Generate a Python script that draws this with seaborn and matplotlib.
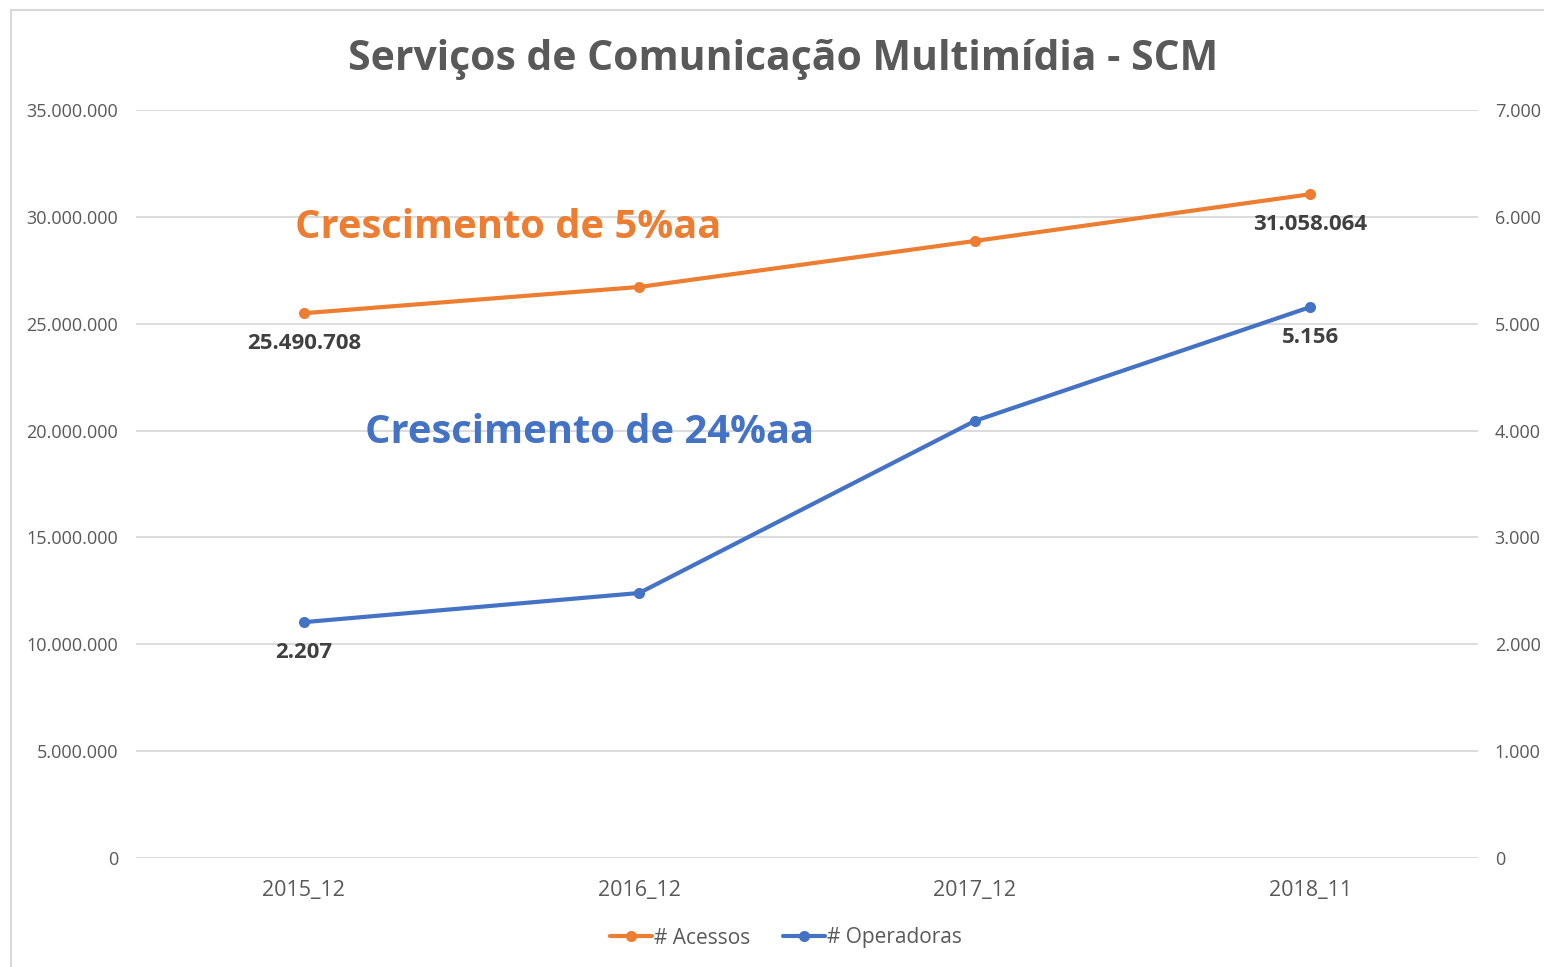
import pandas as pd
import seaborn as sns
import matplotlib.pyplot as plt
from matplotlib.patches import Rectangle
from matplotlib.ticker import FuncFormatter

# %% DATA

periods = ['2015_12', '2016_12', '2017_12', '2018_11']
acessos = [25490708, 26720000, 28870000, 31058064]
operadoras = [2207, 2480, 4090, 5156]

data = pd.DataFrame({'Periodo': periods, 'Acessos': acessos, 'Operadoras': operadoras})

# %% STYLE

sns.set_style('white')
plt.rcParams['font.family'] = ['Open Sans', 'DejaVu Sans']

orange = '#ED7D31'
blue = '#4472C4'
gray = '#595959'

def br_fmt(v, pos):
    return f'{int(round(v)):,}'.replace(',', '.')

fig = plt.figure(figsize=(15.44, 9.67), dpi=100)
ax = fig.add_axes([136 / 1544, 1 - 858 / 967, 1342 / 1544, 748 / 967])
ax2 = ax.twinx()

# %% PLOT

sns.lineplot(data=data, x='Periodo', y='Acessos', ax=ax, color=orange, linewidth=3,
             marker='o', markersize=8, markeredgewidth=0, sort=False, label='# Acessos', legend=False)
sns.lineplot(data=data, x='Periodo', y='Operadoras', ax=ax2, color=blue, linewidth=3,
             marker='o', markersize=8, markeredgewidth=0, sort=False, label='# Operadoras', legend=False)

ax.set_xlim(-0.5, 3.5)
ax.set_ylim(0, 35000000)
ax2.set_ylim(0, 7000)
ax.set_yticks(range(0, 35000001, 5000000))
ax2.set_yticks(range(0, 7001, 1000))
ax.yaxis.set_major_formatter(FuncFormatter(br_fmt))
ax2.yaxis.set_major_formatter(FuncFormatter(br_fmt))

ax.yaxis.grid(True, color='#D9D9D9', linewidth=1.3)
ax.set_axisbelow(True)
for a in (ax, ax2):
    for s in a.spines.values():
        s.set_visible(False)
    a.set_xlabel('')
    a.set_ylabel('')
ax.tick_params(axis='y', length=0, pad=13, labelsize=13, labelcolor=gray)
ax2.tick_params(axis='y', length=0, pad=12, labelsize=13, labelcolor=gray)
ax.tick_params(axis='x', length=0, pad=16, labelsize=15.5, labelcolor=gray)
ax2.set_zorder(ax.get_zorder() + 1)

# %% LABELS

label_kw = dict(textcoords='offset points', ha='center', va='center',
                fontsize=16, fontweight='bold', color='#404040')
for i in (0, 3):
    ax.annotate(br_fmt(acessos[i], None), (i, acessos[i]), xytext=(0, -22), **label_kw)
    ax2.annotate(br_fmt(operadoras[i], None), (i, operadoras[i]), xytext=(0, -22), **label_kw)

ax.text(-0.026, 29520000, 'Crescimento de 5%aa', color=orange, fontsize=28.7,
        fontweight='bold', va='center', ha='left')
ax.text(0.183, 19890000, 'Crescimento de 24%aa', color=blue, fontsize=28.7,
        fontweight='bold', va='center', ha='left')

fig.text(0.5 + 11 / 1544, 1 - 60 / 967, 'Serviços de Comunicação Multimídia - SCM', ha='center',
         va='center', fontsize=29.4, fontweight='bold', color=gray)

h1, l1 = ax.get_legend_handles_labels()
h2, l2 = ax2.get_legend_handles_labels()
fig.legend(h1 + h2, l1 + l2, loc='center', bbox_to_anchor=(0.5 + 14 / 1544, 1 - 938 / 967), ncol=2,
           frameon=False, fontsize=15, labelcolor=gray, handlelength=2.0,
           handletextpad=0.1, columnspacing=1.6)

fig.patches.append(Rectangle((11 / 1544, -0.05), 1.2, 1 - 10 / 967 + 0.05,
                             transform=fig.transFigure, fill=False,
                             edgecolor='#D9D9D9', linewidth=1.5))

fig.savefig('out.png', dpi=100)
